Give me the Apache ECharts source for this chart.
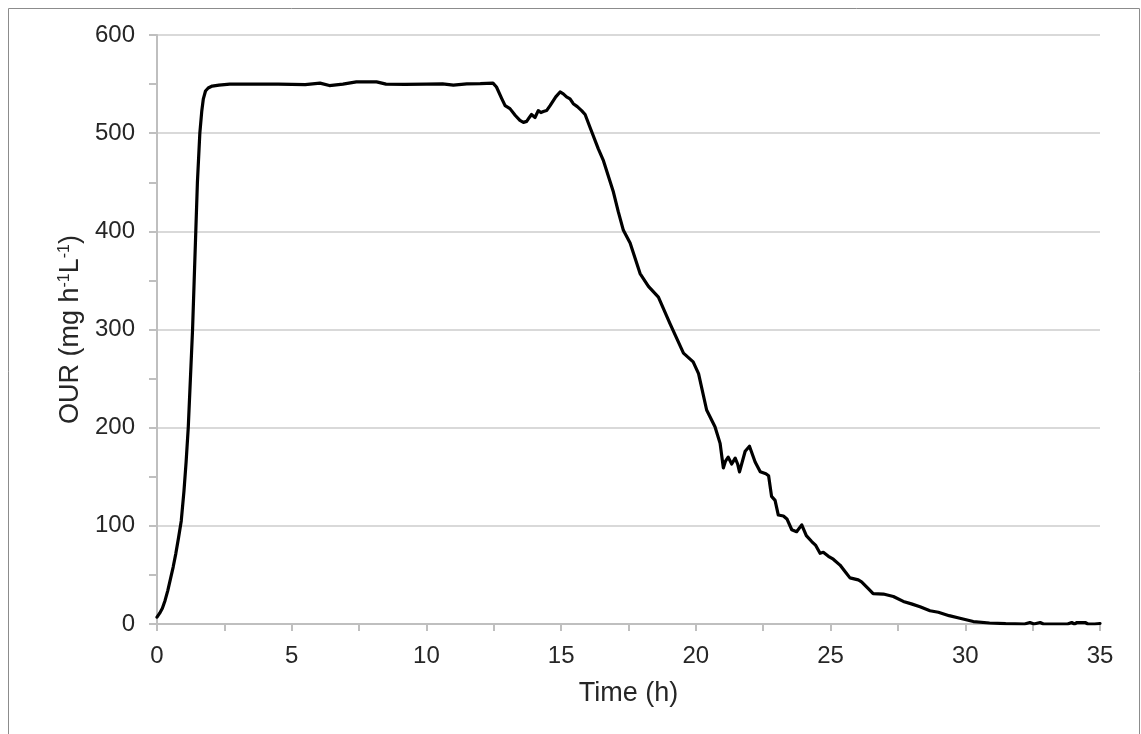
<!DOCTYPE html>
<html>
<head>
<meta charset="utf-8">
<script src="https://cdn.jsdelivr.net/npm/echarts@6/dist/echarts.min.js"></script>
<style>
  html, body { margin: 0; padding: 0; background: #fff; }
  #chart { width: 1141px; height: 734px; }
</style>
</head>
<body>
<div id="chart"></div>
<script>
// Oxygen uptake rate over the course of the run
const timeH = [
  0, 0.1, 0.2, 0.3, 0.4, 0.5, 0.6, 0.7, 0.8, 0.9, 1.0, 1.08, 1.16, 1.24, 1.32, 1.38, 1.44, 1.5, 1.59, 1.66, 1.72, 1.8, 1.9, 2.05, 2.3,
  2.7, 3.5, 4.5, 5.5, 6.05, 6.4, 6.9, 7.4, 8.15, 8.5, 9.2, 10, 10.6, 11.0, 11.5, 12.0, 12.47,
  12.6, 12.8, 12.92, 13.1, 13.3, 13.47, 13.6, 13.72, 13.82, 13.9, 14.03, 14.15, 14.25, 14.34, 14.46, 14.59,
  14.8, 14.96, 15.08, 15.2, 15.33, 15.45, 15.6, 15.76, 15.89, 16.07, 16.38, 16.57, 16.94, 17.12, 17.31,
  17.56, 17.93, 18.24, 18.61, 19.04, 19.54, 19.9, 20.1, 20.4, 20.71, 20.9, 21.02, 21.1, 21.2, 21.33,
  21.46, 21.55, 21.62, 21.83, 21.99, 22.2, 22.39, 22.6, 22.7, 22.81, 22.94, 23.06, 23.25, 23.38, 23.56,
  23.74, 23.93, 24.1, 24.3, 24.45, 24.61, 24.73, 24.92, 25.1, 25.35, 25.55, 25.72, 26.03, 26.15, 26.4,
  26.58, 26.96, 27.33, 27.7, 28.0, 28.32, 28.69, 29.0, 29.4, 29.8, 30.3, 30.9, 31.5, 32.2, 32.4, 32.55,
  32.78, 32.9, 33.8, 33.95, 34.05, 34.15, 34.3, 34.45, 34.55, 34.8, 34.87, 35
];
const ourValues = [
  7, 11, 16, 24, 34, 46, 58, 72, 88, 105, 135, 165, 200, 250, 300, 350, 400, 450, 500, 522, 535, 543, 546, 548, 549,
  550, 550, 550, 549.5, 551, 548.5, 550, 552.3, 552.3, 550, 549.8, 550, 550.3, 549, 550.3, 550.5, 551,
  547, 535, 528, 525, 518, 513, 511, 512, 516, 519, 516, 523, 521, 522, 523, 528,
  537, 542, 540, 537, 535, 530, 527, 523, 519, 506, 484, 472, 440, 420, 401,
  388, 357, 344, 333, 306, 276, 267, 255, 218, 201, 184, 159, 166, 170, 163,
  169, 163, 155, 176, 181, 165, 155, 153, 151, 130, 126, 111, 110, 107, 96,
  94, 101, 90, 84, 80, 72, 73, 69, 66, 60, 53, 47, 45, 43, 36,
  31, 30.5, 28, 23, 20.5, 17.5, 13.5, 12, 8.5, 5.8, 2.5, 1, 0.3, 0, 1.5, 0,
  1.5, 0, 0, 1.5, 0, 1.5, 1.5, 1.5, 0, 0, 1.5, 0.5
];

const xTicks = { min: 0, max: 35, interval: 5 };
const yTicks = { min: 0, max: 600, interval: 100 };

const FONT = 'Liberation Sans, Arial, sans-serif';
const TEXT = '#262626';
const AXIS = '#bfbfbf';
const GRID = '#d9d9d9';

const seriesData = timeH.map((t, i) => [t, ourValues[i]]);

const chart = echarts.init(document.getElementById('chart'), null, { renderer: 'canvas' });
chart.setOption({
  animation: false,
  backgroundColor: '#fff',
  grid: { left: 157, right: 41, top: 35, bottom: 110, containLabel: false },
  graphic: [{
    type: 'rect',
    shape: { x: 8.5, y: 8.5, width: 1131, height: 740 },
    style: { fill: null, stroke: '#8c8c8c', lineWidth: 1 },
    silent: true, z: -1
  }],
  xAxis: {
    type: 'value',
    min: xTicks.min, max: xTicks.max, interval: xTicks.interval,
    name: 'Time (h)',
    nameLocation: 'middle',
    nameGap: 56,
    nameTextStyle: { fontFamily: FONT, fontSize: 27, color: TEXT },
    axisLine: { show: true, lineStyle: { color: AXIS, width: 2 } },
    axisTick: { show: true, length: 7, lineStyle: { color: AXIS, width: 2 } },
    minorTick: { show: true, splitNumber: 2, length: 7, lineStyle: { color: AXIS, width: 2 } },
    splitLine: { show: false },
    axisLabel: { fontFamily: FONT, fontSize: 24, color: TEXT, margin: 20 }
  },
  yAxis: {
    type: 'value',
    min: yTicks.min, max: yTicks.max, interval: yTicks.interval,
    name: '{a|OUR (mg h}{s|-1}{a|L}{s|-1}{a|)}',
    nameLocation: 'middle',
    nameRotate: 90,
    nameGap: 72,
    nameTextStyle: {
      rich: {
        a: { fontFamily: FONT, fontSize: 27, color: TEXT },
        s: { fontFamily: FONT, fontSize: 16, color: TEXT, verticalAlign: 'top' }
      }
    },
    axisLine: { show: true, lineStyle: { color: AXIS, width: 2 } },
    axisTick: { show: true, length: 8, lineStyle: { color: AXIS, width: 2 } },
    minorTick: { show: true, splitNumber: 2, length: 8, lineStyle: { color: AXIS, width: 2 } },
    splitLine: { show: true, lineStyle: { color: GRID, width: 2 } },
    axisLabel: { fontFamily: FONT, fontSize: 24, color: TEXT, margin: 22 }
  },
  series: [{
    type: 'line',
    data: seriesData,
    showSymbol: false,
    smooth: false,
    clip: true,
    lineStyle: { color: '#000', width: 3.2, join: 'round', cap: 'round' }
  }]
});
</script>
</body>
</html>
